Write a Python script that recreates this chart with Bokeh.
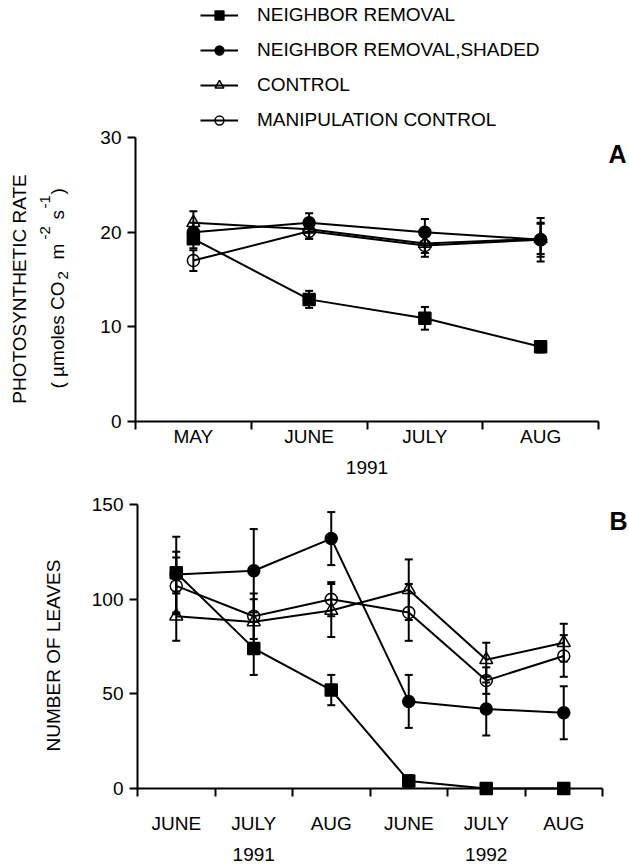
import math
from bokeh.plotting import figure
from bokeh.models import (ColumnDataSource, Whisker, TeeHead, FixedTicker, LinearAxis,
                          Legend, LegendItem, Label, Range1d)
from bokeh.layouts import column
from bokeh.embed import file_html
from bokeh.resources import INLINE

FONT = "Liberation Sans"
FS = "19px"

# ---------------- data: panel A (photosynthetic rate, 1991) ----------------
months_a = ["MAY", "JUNE", "JULY", "AUG"]
year_a = "1991"
nr_a = [19.3, 12.9, 10.9, 7.9]          # neighbor removal
nr_a_err = [1.0, 0.9, 1.2, 0.6]
nrs_a = [20.0, 21.0, 20.0, 19.2]        # neighbor removal, shaded
nrs_a_err = [1.0, 1.0, 1.4, 2.3]
ctl_a = [21.0, 20.3, 18.8, 19.3]        # control
ctl_a_err = [1.2, 1.0, 1.0, 1.6]
man_a = [17.0, 20.1, 18.6, 19.2]        # manipulation control
man_a_err = [1.1, 0.8, 1.2, 1.8]
yticks_a = [0, 10, 20, 30]

# ---------------- data: panel B (number of leaves, 1991-1992) ----------------
months_b = ["JUNE", "JULY", "AUG", "JUNE", "JULY", "AUG"]
years_b = ["1991", "1992"]
nr_b = [114, 74, 52, 4, 0, 0]
nr_b_err = [11, 14, 8, 3, 0, 0]
nrs_b = [113, 115, 132, 46, 42, 40]
nrs_b_err = [20, 22, 14, 14, 14, 14]
ctl_b = [91, 88, 94, 105, 68, 77]
ctl_b_err = [13, 12, 14, 16, 9, 10]
man_b = [107, 91, 100, 93, 57, 70]
man_b_err = [15, 12, 9, 15, 7, 11]
yticks_b = [0, 50, 100, 150]

series_labels = ["NEIGHBOR REMOVAL", "NEIGHBOR REMOVAL,SHADED", "CONTROL", "MANIPULATION CONTROL"]

# y-axis title of panel A, line 2, in pieces: (text, font px, role)
unit_pieces = [("( µmoles CO", 19, "base"), ("2", 15, "sub"), ("m", 19, "base"),
               ("-2", 15, "sup"), ("s", 19, "base"), ("-1", 15, "sup"), (")", 19, "base")]


def style_axis(ax):
    ax.axis_line_width = 2
    ax.axis_line_color = "black"
    ax.major_tick_line_color = "black"
    ax.major_tick_line_width = 2
    ax.minor_tick_line_color = "black"
    ax.minor_tick_line_width = 2
    ax.major_label_text_font = FONT
    ax.major_label_text_font_size = FS
    ax.major_label_text_color = "black"


def make_fig(width, height, x_px0, x_scale, y_px0, y_scale):
    """Frame covers the whole canvas; axes are pinned at data 0 (fixed_location)."""
    xr = Range1d(-x_px0 / x_scale, (width - x_px0) / x_scale)
    yr = Range1d(-(height - y_px0) / y_scale, y_px0 / y_scale)
    p = figure(width=width, height=height, output_backend="svg", toolbar_location=None,
               x_range=xr, y_range=yr, x_axis_location=None, y_axis_location=None,
               min_border_left=0, min_border_top=0, min_border_bottom=0, min_border_right=0)
    p.outline_line_color = None
    p.xgrid.visible = False
    p.ygrid.visible = False
    p.background_fill_color = "white"
    p.border_fill_color = "white"
    return p


def add_x_axes(p, labels, standoff, year_ticks, year_labels, year_standoff):
    n = len(labels)
    centers = [i + 0.5 for i in range(n)]
    ax = LinearAxis(ticker=FixedTicker(ticks=centers, minor_ticks=list(range(n + 1))),
                    major_label_overrides={c: lab for c, lab in zip(centers, labels)},
                    bounds=(0, n), fixed_location=0)
    style_axis(ax)
    ax.major_tick_out = 0
    ax.major_tick_in = 0
    ax.minor_tick_out = 8
    ax.minor_tick_in = 0
    ax.major_label_standoff = standoff
    p.add_layout(ax, "below")
    yax = LinearAxis(ticker=FixedTicker(ticks=year_ticks, minor_ticks=[]),
                     major_label_overrides={t: lab for t, lab in zip(year_ticks, year_labels)},
                     fixed_location=0)
    style_axis(yax)
    yax.axis_line_color = None
    yax.major_tick_out = 0
    yax.major_tick_in = 0
    yax.minor_tick_out = 0
    yax.minor_tick_in = 0
    yax.major_label_standoff = year_standoff
    p.add_layout(yax, "below")
    return centers


def add_y_axis(p, ticks):
    ax = LinearAxis(ticker=FixedTicker(ticks=ticks, minor_ticks=[]),
                    bounds=(ticks[0], ticks[-1]), fixed_location=0)
    style_axis(ax)
    ax.major_tick_out = 8
    ax.major_tick_in = 0
    ax.minor_tick_out = 0
    ax.major_label_standoff = 6
    p.add_layout(ax, "left")


def add_series(p, xs, ys, errs, marker, filled, size):
    src = ColumnDataSource(dict(x=xs, y=ys,
                                lo=[v - e for v, e in zip(ys, errs)],
                                hi=[v + e for v, e in zip(ys, errs)]))
    w = Whisker(base="x", upper="hi", lower="lo", source=src, line_color="black", line_width=2,
                upper_head=TeeHead(size=8, line_width=2, line_color="black"),
                lower_head=TeeHead(size=8, line_width=2, line_color="black"))
    p.add_layout(w)
    ln = p.line("x", "y", source=src, line_color="black", line_width=2)
    sc = p.scatter("x", "y", source=src, marker=marker, size=size,
                   fill_color="black" if filled else None, line_color="black",
                   line_width=1.5)
    return ln, sc


def text(p, s, x, y, size=FS, bold=False, angle=0.0, align="center"):
    p.add_layout(Label(x=x, y=y, x_units="screen", y_units="screen", text=s,
                       angle=angle, text_align=align, text_baseline="middle",
                       text_font=FONT, text_font_size=size,
                       text_font_style="bold" if bold else "normal", text_color="black"))


W = 629
VERT = math.pi / 2

# ---------------- panel A ----------------
HA = 485
pA = make_fig(W, HA, 135, 463 / 4, 421, 284 / 30)
xa = add_x_axes(pA, months_a, -4, [len(months_a) / 2], [year_a], 39)
add_y_axis(pA, yticks_a)

rA = []
rA.append(add_series(pA, xa, ctl_a, ctl_a_err, "triangle", False, 13))
rA.append(add_series(pA, xa, man_a, man_a_err, "circle", False, 12))
rA.append(add_series(pA, xa, nrs_a, nrs_a_err, "circle", True, 12))
rA.append(add_series(pA, xa, nr_a, nr_a_err, "square", True, 12))
order = [3, 2, 0, 1]
items = [LegendItem(label=series_labels[k], renderers=list(rA[i])) for k, i in enumerate(order)]
legend = Legend(items=items, location=(200, 354), glyph_width=38, glyph_height=22,
                label_height=22, spacing=13, padding=0, label_standoff=19,
                border_line_color=None, background_fill_alpha=0,
                label_text_font=FONT, label_text_font_size=FS, label_text_color="black")
pA.add_layout(legend)

# y-axis title, line 1
text(pA, "PHOTOSYNTHETIC RATE", 18.5, HA - 288.5, angle=VERT)
# y-axis title, line 2 (pieces start positions along the axis, page px from top)
piece_starts = [388, 279, 259, 239, 219, 208, 194]
role_x = {"base": 57, "sub": 62, "sup": 44}
for (s, px, role), start in zip(unit_pieces, piece_starts):
    text(pA, s, role_x[role], HA - start, size=f"{px}px", angle=VERT, align="left")
text(pA, "A", 608, HA - 153, size="25px", bold=True, align="left")

# ---------------- panel B ----------------
HB = 383
pB = make_fig(W, HB, 137, 465 / 6, 303, 284 / 150)
xb = add_x_axes(pB, months_b, 16, [1.5, 4.5], years_b, 59)
add_y_axis(pB, yticks_b)

add_series(pB, xb, ctl_b, ctl_b_err, "triangle", False, 13)
add_series(pB, xb, man_b, man_b_err, "circle", False, 12)
add_series(pB, xb, nrs_b, nrs_b_err, "circle", True, 12)
add_series(pB, xb, nr_b, nr_b_err, "square", True, 12)
text(pB, "NUMBER OF LEAVES", 52.5, HB - (655 - 485), angle=VERT)
text(pB, "B", 609, HB - (520 - 485), size="25px", bold=True, align="left")

layout = column(pA, pB)
open("out.html", "w").write(file_html(layout, INLINE))
